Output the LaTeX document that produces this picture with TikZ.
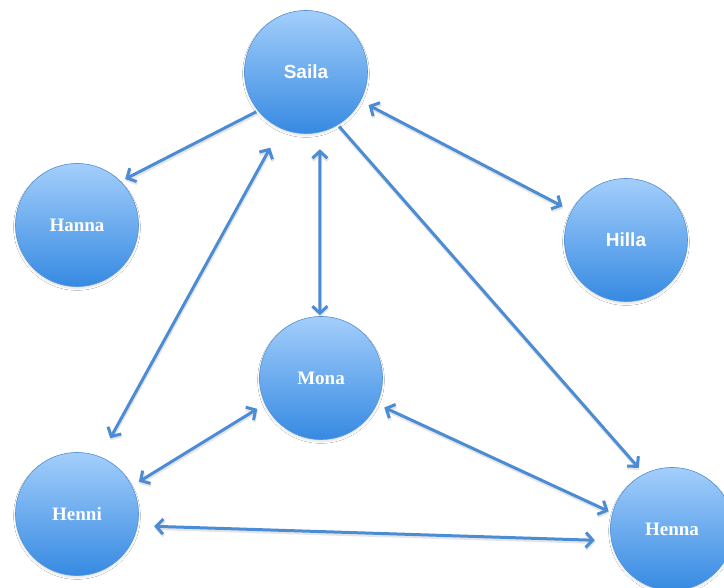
\documentclass[tikz,border=0pt]{standalone}
\usepackage{fontspec}
\setmainfont{Liberation Serif}
\newfontfamily\labelsans{Liberation Sans}
\usetikzlibrary{arrows.meta,shadows.blur}

\definecolor{linkblue}{RGB}{76,140,212}
\definecolor{balltop}{RGB}{163,206,251}
\definecolor{ballbottom}{RGB}{54,138,226}
\definecolor{rimblue}{RGB}{84,148,216}

\tikzset{
  person/.style={circle, minimum size=123pt, inner sep=0pt,
    draw=rimblue, line width=0.6pt,
    top color=balltop, bottom color=ballbottom,
    text=white, font=\bfseries\fontsize{19}{19}\selectfont,
    blur shadow={shadow xshift=0pt, shadow yshift=-2pt,
      shadow opacity=12, shadow blur steps=6}},
  barb/.tip={Straight Barb[length=7pt,width=15pt]},
  link/.style={draw=linkblue, line width=3pt, -barb,
    preaction={draw=black, draw opacity=0.10, line width=3.4pt,
      transform canvas={xshift=0.5pt,yshift=-2pt}}},
  twoway/.style={link, barb-barb},
}

\begin{document}
\begin{tikzpicture}[x=1pt,y=-1pt]
  \useasboundingbox (0,0) rectangle (724,588);
  \fill[white] (0,0) rectangle (724,588);

  % people
  \node[person] (saila) at (306,72)  {\labelsans\bfseries Saila};
  \node[person] (hanna) at (77,225)  {Hanna};
  \node[person] (hilla) at (626,240) {\labelsans\bfseries Hilla};
  \node[person] (mona)  at (321,378) {Mona};
  \node[person] (henni) at (77,514)  {Henni};
  \node[person] (henna) at (672,529) {Henna};

  % relations
  \draw[link, shorten <=2pt, shorten >=5pt] (saila.219.9) -- (hanna.45.6);
  \draw[twoway, shorten <=9pt, shorten >=10pt] (saila.-28) -- (hilla.152.7);
  \draw[twoway, shorten <=17pt, shorten >=1pt] (saila.-77.7) -- (mona.91.9);
  \draw[link, shorten <=2pt, shorten >=8pt] (saila.-59.8) -- (henna.117.3);
  \draw[twoway, shorten <=21pt, shorten >=22pt] (henni.68.7) -- (saila.246.5);
  \draw[twoway, shorten <=8pt, shorten >=9pt] (henni.27.7) -- (mona.205.5);
  \draw[twoway, shorten <=8pt, shorten >=4pt] (mona.-25.8) -- (henna.165.1);
  \draw[twoway, shorten <=16.5pt, shorten >=16.5pt] (henni.-11.9) -- (henna.191);
\end{tikzpicture}
\end{document}
